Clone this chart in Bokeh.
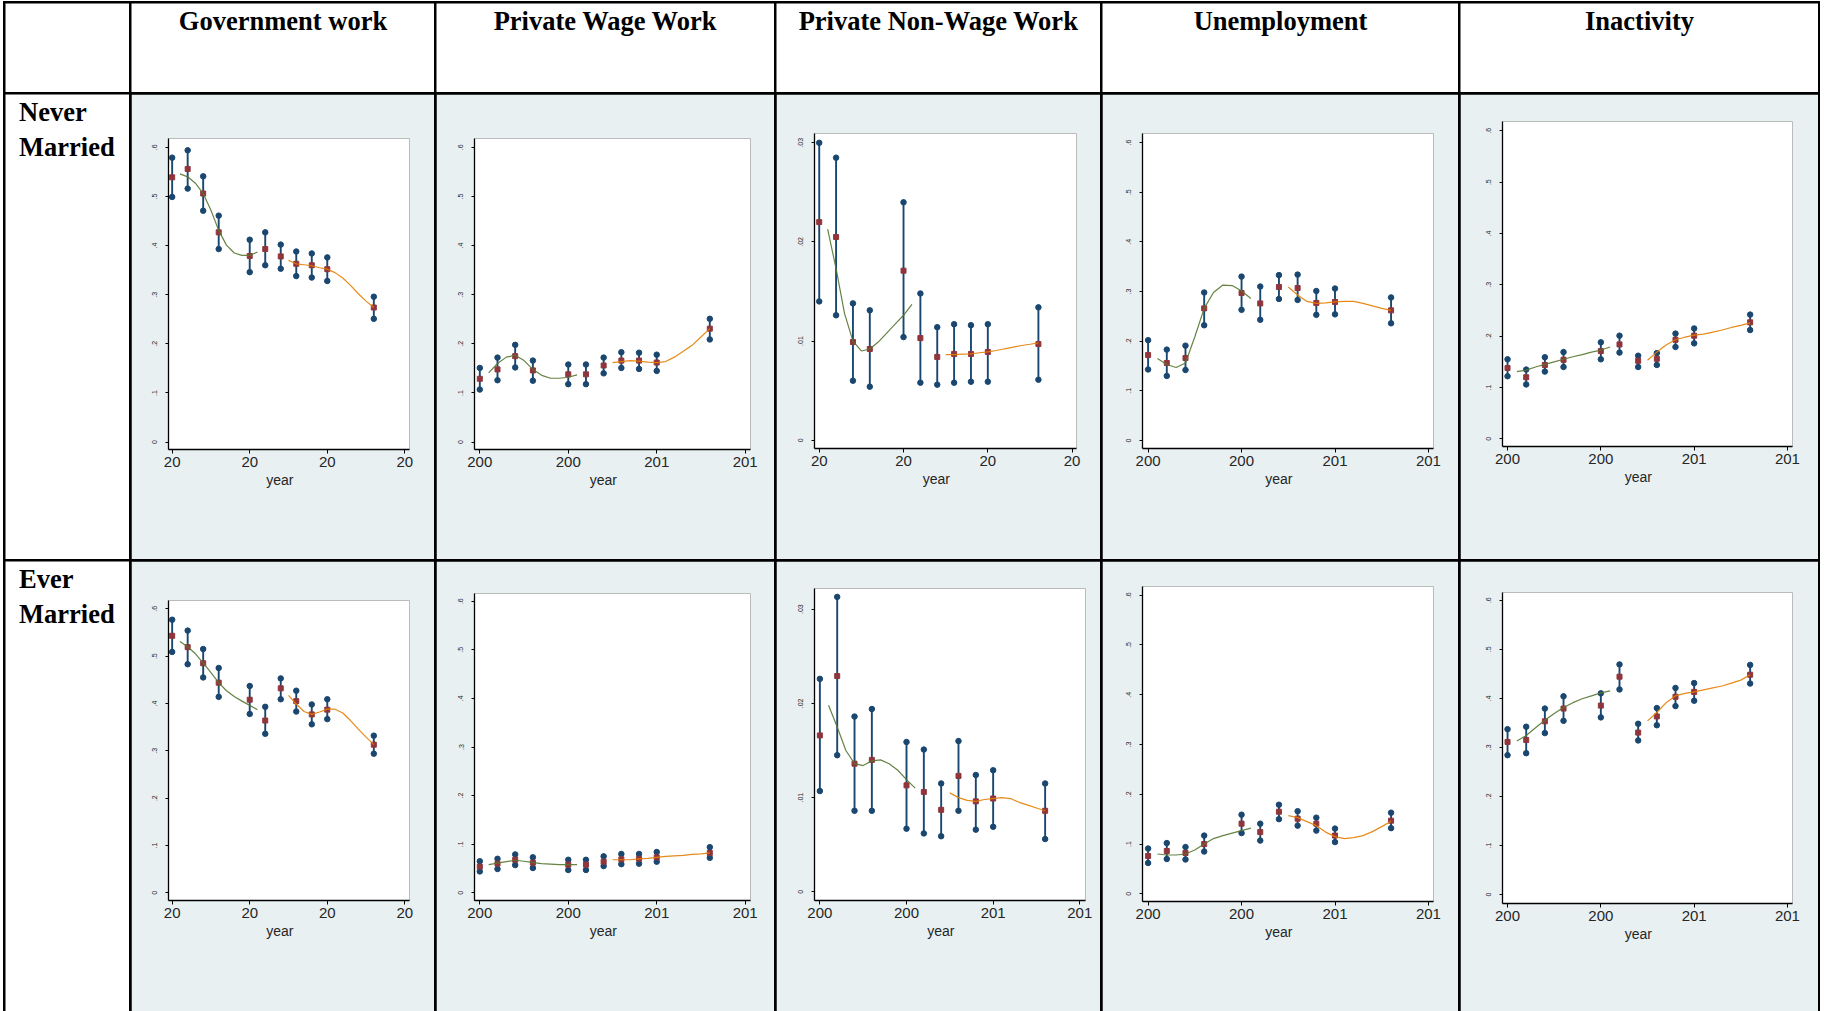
from bokeh.plotting import figure
from bokeh.models import Range1d, FixedTicker, CustomJSTickFormatter, Label, Row, Column, Title
from bokeh.embed import file_html
from bokeh.resources import INLINE

# ---------------- data ----------------
column_titles = ["Government work", "Private Wage Work", "Private Non-Wage Work",
                 "Unemployment", "Inactivity"]
row_titles = [("Never", "Married"), ("Ever", "Married")]
x_title = "year"

years = [2000, 2001, 2002, 2003, 2005, 2006, 2007, 2008, 2009, 2010, 2013]
fit1_years = [2000.5, 2001.0, 2001.5, 2002.0, 2002.5, 2003.0, 2003.5, 2004.0, 2004.5, 2005.0, 2005.5]
fit2_years = [2007.5, 2008.0, 2008.5, 2009.0, 2009.5, 2010.0, 2010.5, 2011.0, 2011.5, 2012.0, 2012.5, 2013.0]
x_ticks = [2000, 2005, 2010, 2015]
y_ticks_share = [0, 0.1, 0.2, 0.3, 0.4, 0.5, 0.6]
y_ticks_small = [0, 0.01, 0.02, 0.03]

# Never married
gov_nm_mean = [.539, .556, .506, .427, .379, .393, .378, .363, .360, .352, .274]
gov_nm_lo = [.499, .516, .471, .393, .346, .360, .353, .338, .335, .328, .251]
gov_nm_hi = [.579, .594, .541, .461, .412, .427, .402, .388, .384, .376, .296]
gov_nm_fit1 = [.546, .540, .527, .506, .472, .431, .401, .385, .380, .380, .387]
gov_nm_fit2 = [.370, .363, .361, .359, .355, .352, .345, .334, .319, .302, .287, .274]

pww_nm_mean = [.129, .148, .175, .146, .138, .138, .156, .166, .166, .162, .231]
pww_nm_lo = [.107, .126, .152, .125, .118, .118, .140, .151, .149, .145, .209]
pww_nm_hi = [.151, .172, .198, .166, .158, .158, .172, .183, .182, .178, .251]
pww_nm_fit1 = [.141, .160, .173, .177, .166, .148, .136, .130, .130, .132, .137]
pww_nm_fit2 = [.162, .164, .166, .165, .163, .162, .164, .173, .185, .197, .214, .231]

pnw_nm_mean = [.0220, .0205, .0099, .0092, .0171, .0103, .0084, .0087, .0087, .0089, .0097]
pnw_nm_lo = [.0140, .0126, .0060, .0054, .0104, .0058, .0056, .0058, .0059, .0059, .0061]
pnw_nm_hi = [.0300, .0285, .0138, .0131, .0240, .0148, .0114, .0117, .0116, .0117, .0134]
pnw_nm_fit1 = [.0213, .0173, .0128, .0100, .0090, .0092, .0099, .0108, .0117, .0126, .0137]
pnw_nm_fit2 = [.00864, .00864, .00868, .00871, .00882, .00891, .00905, .00922, .00938, .00955, .00968, .00982]

une_nm_mean = [.172, .156, .166, .266, .297, .276, .309, .307, .277, .279, .262]
une_nm_lo = [.143, .130, .142, .232, .263, .243, .285, .283, .253, .254, .236]
une_nm_hi = [.202, .183, .191, .298, .330, .310, .333, .334, .301, .306, .288]
une_nm_fit1 = [.165, .153, .147, .156, .209, .266, .298, .313, .312, .301, .286]
une_nm_fit2 = [.309, .293, .280, .276, .277, .279, .280, .280, .276, .271, .266, .262]

ina_nm_mean = [.138, .120, .144, .154, .171, .184, .152, .156, .193, .201, .227]
ina_nm_lo = [.122, .106, .131, .140, .155, .168, .140, .144, .179, .186, .212]
ina_nm_hi = [.155, .135, .159, .169, .188, .201, .162, .167, .205, .215, .242]
ina_nm_fit1 = [.131, .134, .140, .145, .150, .155, .160, .164, .169, .173, .179]
ina_nm_fit2 = [.153, .169, .183, .193, .198, .202, .204, .208, .212, .217, .221, .226]

# Ever married
gov_em_mean = [.543, .519, .485, .444, .408, .364, .432, .405, .377, .387, .313]
gov_em_lo = [.509, .483, .455, .414, .378, .336, .409, .383, .356, .367, .294]
gov_em_hi = [.577, .554, .515, .475, .437, .393, .453, .427, .398, .409, .332]
gov_em_fit1 = [.531, .520, .505, .486, .465, .444, .427, .415, .405, .396, .387]
gov_em_fit2 = [.417, .399, .383, .377, .382, .388, .388, .380, .364, .346, .329, .313]

pww_em_mean = [.054, .060, .068, .062, .058, .058, .064, .069, .070, .073, .082]
pww_em_lo = [.044, .049, .057, .051, .047, .047, .055, .059, .060, .064, .072]
pww_em_hi = [.065, .070, .079, .073, .068, .068, .075, .080, .080, .084, .094]
pww_em_fit1 = [.058, .061, .064, .067, .065, .062, .060, .059, .058, .058, .058]
pww_em_fit2 = [.068, .068, .068, .070, .071, .073, .075, .076, .077, .079, .080, .082]

pnw_em_mean = [.0166, .0229, .0136, .0140, .0113, .0106, .0087, .0123, .0096, .0099, .0086]
pnw_em_lo = [.0107, .0145, .0086, .0086, .0067, .0062, .0059, .0086, .0066, .0069, .0056]
pnw_em_hi = [.0226, .0313, .0186, .0194, .0159, .0151, .0115, .0160, .0124, .0129, .0115]
pnw_em_fit1 = [.0198, .0175, .0150, .0136, .0134, .0139, .0140, .0136, .0129, .0119, .0110]
pnw_em_fit2 = [.0105, .0100, .0097, .0096, .0098, .0099, .0100, .0099, .0095, .0092, .0089, .0086]

une_em_mean = [.076, .086, .082, .100, .141, .124, .165, .151, .141, .117, .147]
une_em_lo = [.062, .070, .069, .085, .122, .107, .150, .137, .127, .104, .132]
une_em_hi = [.091, .102, .094, .117, .159, .141, .179, .166, .153, .131, .163]
une_em_fit1 = [.080, .078, .078, .080, .088, .100, .111, .117, .122, .127, .132]
une_em_fit2 = [.157, .153, .145, .137, .124, .115, .111, .113, .117, .125, .135, .146]

ina_em_mean = [.311, .315, .353, .379, .385, .444, .330, .363, .403, .413, .448]
ina_em_lo = [.284, .288, .329, .354, .361, .418, .314, .345, .384, .395, .430]
ina_em_hi = [.337, .342, .379, .404, .410, .469, .348, .380, .421, .431, .468]
ina_em_fit1 = [.313, .324, .340, .355, .369, .381, .391, .399, .405, .411, .415]
ina_em_fit2 = [.354, .371, .391, .405, .410, .413, .417, .421, .425, .431, .437, .448]

panel_data = [
    [(gov_nm_mean, gov_nm_lo, gov_nm_hi, gov_nm_fit1, gov_nm_fit2),
     (pww_nm_mean, pww_nm_lo, pww_nm_hi, pww_nm_fit1, pww_nm_fit2),
     (pnw_nm_mean, pnw_nm_lo, pnw_nm_hi, pnw_nm_fit1, pnw_nm_fit2),
     (une_nm_mean, une_nm_lo, une_nm_hi, une_nm_fit1, une_nm_fit2),
     (ina_nm_mean, ina_nm_lo, ina_nm_hi, ina_nm_fit1, ina_nm_fit2)],
    [(gov_em_mean, gov_em_lo, gov_em_hi, gov_em_fit1, gov_em_fit2),
     (pww_em_mean, pww_em_lo, pww_em_hi, pww_em_fit1, pww_em_fit2),
     (pnw_em_mean, pnw_em_lo, pnw_em_hi, pnw_em_fit1, pnw_em_fit2),
     (une_em_mean, une_em_lo, une_em_hi, une_em_fit1, une_em_fit2),
     (ina_em_mean, ina_em_lo, ina_em_hi, ina_em_fit1, ina_em_fit2)],
]

# ---------------- layout / style ----------------
BG = "#E8F0F2"
NAVY = "#1a476f"
MAROON = "#90353b"
GREEN = "#55752f"
ORANGE = "#e37e00"
TXT = "#262626"

col_widths = [124, 303, 338, 324, 356, 358]
row_heights = [89, 465, 450]

# (left, right, top, bottom) margins per panel
margins = [
    [(37, 25, 44, 110), (38, 24, 44, 110), (38, 24, 39, 111), (40, 25, 39, 111), (42, 26, 27, 113)],
    [(37, 25, 39, 111), (38, 24, 32, 111), (38, 15, 27, 111), (40, 25, 25, 110), (42, 26, 31, 108)],
]
x_ranges = [
    [(1999.764, 2015.30), (1999.70, 2015.30), (1999.72, 2015.26), (1999.70, 2015.27), (1999.73, 2015.27)],
    [(1999.764, 2015.30), (1999.70, 2015.30), (1999.69, 2015.33), (1999.70, 2015.27), (1999.73, 2015.27)],
]
y_ranges = [
    [(-0.015, 0.618), (-0.015, 0.618), (-0.00084, 0.03094), (-0.0161, 0.6181), (-0.0149, 0.6182)],
    [(-0.0162, 0.6176), (-0.0158, 0.6158), (-0.00092, 0.03219), (-0.0154, 0.6174), (-0.0184, 0.6156)],
]
# visible characters of the (wrapped) year tick labels
x_label_chars = [[2, 3, 2, 3, 3], [2, 3, 3, 3, 3]]
X_TITLE_SHIFT = 9      # the axis title sits a little left of the plot centre
X_TITLE_HALF_W = 13.7  # half width of "year" at 14px


def text_fig(w, h):
    p = figure(width=w, height=h, x_range=Range1d(0, w), y_range=Range1d(0, h),
               toolbar_location=None, output_backend="svg",
               x_axis_location=None, y_axis_location=None, min_border=0,
               background_fill_color="white", border_fill_color="white",
               outline_line_color=None)
    p.grid.visible = False
    return p


def bold_label(x, y, text, align):
    return Label(x=x, y=y, text=text, text_align=align, text_baseline="alphabetic",
                 text_font="Liberation Serif", text_font_style="bold",
                 text_font_size="26.5px", text_color="black")


def panel(r, c):
    mean, lo, hi, fit1, fit2 = panel_data[r][c]
    left, right, top, bottom = margins[r][c]
    width = col_widths[c + 1]
    p = figure(width=width, height=row_heights[r + 1],
               x_range=Range1d(*x_ranges[r][c]), y_range=Range1d(*y_ranges[r][c]),
               toolbar_location=None, output_backend="svg",
               min_border_left=left, min_border_right=right,
               min_border_top=top, min_border_bottom=bottom,
               background_fill_color="white", border_fill_color=BG,
               outline_line_color=None)
    p.grid.visible = False

    small = (c == 2)
    yt = y_ticks_small if small else y_ticks_share
    dec = 2 if small else 1

    xa = p.xaxis[0]
    xa.ticker = FixedTicker(ticks=x_ticks)
    xa.formatter = CustomJSTickFormatter(code="return String(tick).slice(0, %d);" % x_label_chars[r][c])
    xa.major_label_text_font = "Liberation Sans"
    xa.major_label_text_font_size = "15px"
    xa.major_label_text_color = TXT
    xa.major_label_standoff = 3
    xa.major_tick_out = 4
    xa.major_tick_in = 0
    xa.minor_tick_line_color = None
    xa.axis_line_color = "black"
    xa.axis_line_width = 1.3
    xa.major_tick_line_color = "black"

    frame_w = width - left - right
    p.add_layout(Title(text=x_title, align="left", offset=frame_w / 2 - X_TITLE_SHIFT - X_TITLE_HALF_W,
                       text_font="Liberation Sans", text_font_size="14px",
                       text_font_style="normal", text_color=TXT, standoff=0), "below")

    ya = p.yaxis[0]
    ya.ticker = FixedTicker(ticks=yt)
    ya.formatter = CustomJSTickFormatter(
        code="if (Math.abs(tick) < 1e-12) { return '0'; } return tick.toFixed(%d).replace(/^0/, '');" % dec)
    ya.major_label_orientation = "vertical"
    ya.major_label_text_font = "Liberation Sans"
    ya.major_label_text_font_size = "7px"
    ya.major_label_text_color = TXT
    ya.major_label_standoff = 8
    ya.major_tick_out = 3
    ya.major_tick_in = 0
    ya.minor_tick_line_color = None
    ya.axis_line_color = "black"
    ya.axis_line_width = 1.3
    ya.major_tick_line_color = "black"

    p.segment(x0=years, y0=lo, x1=years, y1=hi, line_color=NAVY, line_width=1.9)
    p.scatter(years, lo, marker="circle", size=5.5, fill_color=NAVY, line_color=NAVY)
    p.scatter(years, hi, marker="circle", size=5.5, fill_color=NAVY, line_color=NAVY)
    p.scatter(years, mean, marker="square", size=5, fill_color=MAROON, line_color=MAROON)
    p.line(fit1_years, fit1, line_color=GREEN, line_width=1.2, line_alpha=0.9)
    p.line(fit2_years, fit2, line_color=ORANGE, line_width=1.2, line_alpha=0.9)
    return p


def boxed(fig):
    # each cell in its own container so that plot frames are not aligned across the row
    return Column(children=[fig])


rows = []
# header row
header = [boxed(text_fig(col_widths[0], row_heights[0]))]
for c, title in enumerate(column_titles):
    w = col_widths[c + 1]
    h = row_heights[0]
    f = text_fig(w, h)
    f.add_layout(bold_label(w / 2, h - 17, title, "center"))
    header.append(boxed(f))
rows.append(Row(children=header, spacing=2, styles={"background-color": "black"}))

for r in range(2):
    w = col_widths[0]
    h = row_heights[r + 1]
    f = text_fig(w, h)
    f.add_layout(bold_label(13.5, h - 17, row_titles[r][0], "left"))
    f.add_layout(bold_label(13.5, h - 52, row_titles[r][1], "left"))
    cells = [boxed(f)] + [boxed(panel(r, c)) for c in range(5)]
    rows.append(Row(children=cells, spacing=2, styles={"background-color": "black"}))

table = Column(children=rows, spacing=2,
               styles={"background-color": "black", "padding": "2px 2px 0px 2px",
                       "margin-left": "3px", "margin-top": "1px"})

open("out.html", "w").write(file_html(table, INLINE, title="Employment status by year"))
